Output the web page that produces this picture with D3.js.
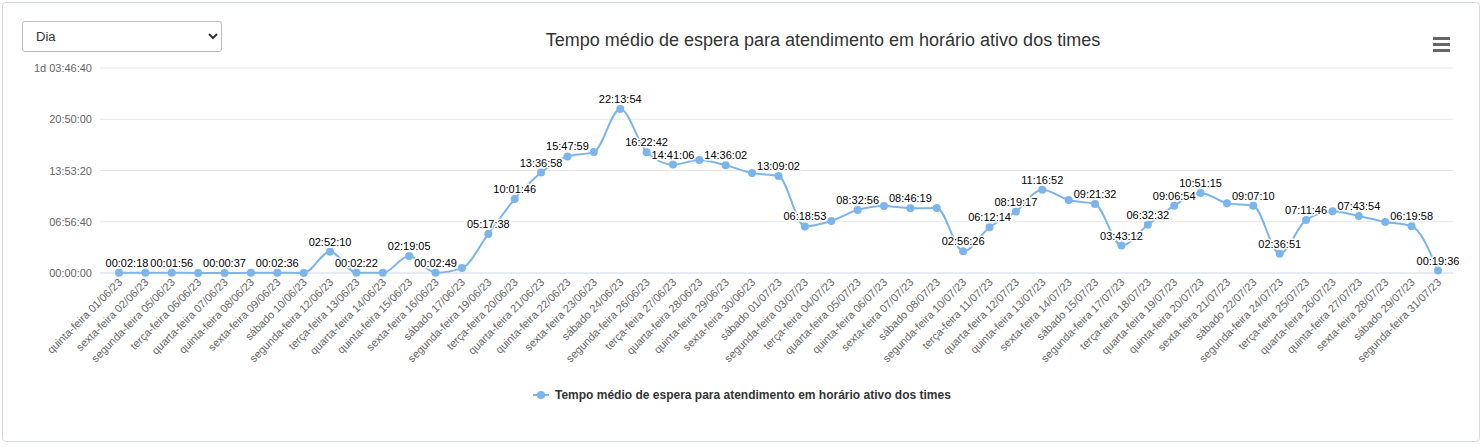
<!DOCTYPE html>
<html><head><meta charset="utf-8">
<script src="https://cdn.jsdelivr.net/npm/d3@7"></script>
<style>
body{margin:0;background:#fff;font-family:"Liberation Sans",Arial,sans-serif;}
#wrap{position:absolute;left:2px;top:2px;width:1476px;height:438px;border:1px solid #d6dbe0;border-radius:4px;}
select{position:absolute;left:22px;top:21px;width:200px;height:31px;font-size:13px;border:1px solid #bbb;border-radius:3px;background:#fff;padding-left:9px;color:#333;}
</style></head><body>
<div id="wrap"></div>
<select><option>Dia</option></select>
<svg id="c" width="1483" height="447" style="position:absolute;left:0;top:0;pointer-events:none"></svg>
<script>
const categories=["quinta-feira 01/06/23","sexta-feira 02/06/23","segunda-feira 05/06/23","terça-feira 06/06/23","quarta-feira 07/06/23","quinta-feira 08/06/23","sexta-feira 09/06/23","sábado 10/06/23","segunda-feira 12/06/23","terça-feira 13/06/23","quarta-feira 14/06/23","quinta-feira 15/06/23","sexta-feira 16/06/23","sábado 17/06/23","segunda-feira 19/06/23","terça-feira 20/06/23","quarta-feira 21/06/23","quinta-feira 22/06/23","sexta-feira 23/06/23","sábado 24/06/23","segunda-feira 26/06/23","terça-feira 27/06/23","quarta-feira 28/06/23","quinta-feira 29/06/23","sexta-feira 30/06/23","sábado 01/07/23","segunda-feira 03/07/23","terça-feira 04/07/23","quarta-feira 05/07/23","quinta-feira 06/07/23","sexta-feira 07/07/23","sábado 08/07/23","segunda-feira 10/07/23","terça-feira 11/07/23","quarta-feira 12/07/23","quinta-feira 13/07/23","sexta-feira 14/07/23","sábado 15/07/23","segunda-feira 17/07/23","terça-feira 18/07/23","quarta-feira 19/07/23","quinta-feira 20/07/23","sexta-feira 21/07/23","sábado 22/07/23","segunda-feira 24/07/23","terça-feira 25/07/23","quarta-feira 26/07/23","quinta-feira 27/07/23","sexta-feira 28/07/23","sábado 29/07/23","segunda-feira 31/07/23"];
const values=["00:02:18","00:01:40","00:01:56","00:01:00","00:00:37","00:01:05","00:02:36","00:01:00","02:52:10","00:02:22","00:01:20","02:19:05","00:02:49","00:40:00","05:17:38","10:01:46","13:36:58","15:47:59","16:23:00","22:13:54","16:22:42","14:41:06","15:18:00","14:36:02","13:33:00","13:09:02","06:18:53","07:03:00","08:32:56","09:05:00","08:46:19","08:48:00","02:56:26","06:12:14","08:19:17","11:16:52","09:53:00","09:21:32","03:43:12","06:32:32","09:06:54","10:51:15","09:28:00","09:07:10","02:36:51","07:11:46","08:23:00","07:43:54","06:55:00","06:19:58","00:19:36"];
const labeled=[0,2,4,6,8,9,11,12,14,15,16,17,19,20,21,23,25,26,28,30,32,33,34,35,37,38,39,40,41,43,44,45,47,49,50];
const yTicks=[0,25000,50000,75000,100000];
const title="Tempo médio de espera para atendimento em horário ativo dos times";
const secs=s=>{const [h,m,x]=s.split(":").map(Number);return h*3600+m*60+x;};
const p2=n=>String(n).padStart(2,"0");
const fmt=v=>{const d=Math.floor(v/86400),r=v%86400;const t=p2(Math.floor(r/3600))+":"+p2(Math.floor(r%3600/60))+":"+p2(r%60);return d?d+"d "+t:t;};
const svg=d3.select("#c");
const x=d3.scalePoint().domain(d3.range(categories.length)).range([119,1438]);
const y=d3.scaleLinear().domain([0,100000]).range([273,68]);
svg.append("text").attr("x",823).attr("y",46).attr("text-anchor","middle").attr("font-size",18).attr("fill","#333").text(title);
[0,6,12].forEach(o=>svg.append("rect").attr("x",1433).attr("y",37+o).attr("width",17).attr("height",3).attr("fill","#666"));
svg.append("g").selectAll("line").data(yTicks).join("line").attr("x1",100).attr("x2",1453).attr("y1",d=>y(d)).attr("y2",d=>y(d)).attr("stroke",d=>d?"#e6e6e6":"#ccd6eb");
svg.append("g").selectAll("text").data(yTicks).join("text").attr("x",92).attr("y",d=>y(d)+4).attr("text-anchor","end").attr("font-size",11).attr("fill","#666").text(fmt);
svg.append("g").selectAll("text").data(categories).join("text").attr("transform",(d,i)=>`translate(${x(i)+4},283) rotate(-45)`).attr("text-anchor","end").attr("font-size",11).attr("fill","#666").text(d=>d);
const data=values.map(secs);
svg.append("path").datum(data).attr("fill","none").attr("stroke","#7cb5ec").attr("stroke-width",2)
 .attr("d",d3.line().x((d,i)=>x(i)).y(d=>y(d)).curve(d3.curveMonotoneX));
svg.append("g").selectAll("circle").data(data).join("circle").attr("cx",(d,i)=>x(i)).attr("cy",d=>y(d)).attr("r",4).attr("fill","#7cb5ec");
svg.append("g").selectAll("text").data(labeled).join("text").attr("x",i=>i===0?127:x(i)).attr("y",i=>y(data[i])-6).attr("text-anchor","middle").attr("font-size",11).attr("fill","#000")
 .attr("stroke","#fff").attr("stroke-width",3).attr("paint-order","stroke").attr("stroke-linejoin","round").text(i=>values[i]);
svg.append("line").attr("x1",533).attr("x2",549).attr("y1",395).attr("y2",395).attr("stroke","#7cb5ec").attr("stroke-width",2);
svg.append("circle").attr("cx",541).attr("cy",395).attr("r",4).attr("fill","#7cb5ec");
svg.append("text").attr("x",555).attr("y",399).attr("font-size",12).attr("font-weight","bold").attr("fill","#333").text(title);
</script></body></html>
